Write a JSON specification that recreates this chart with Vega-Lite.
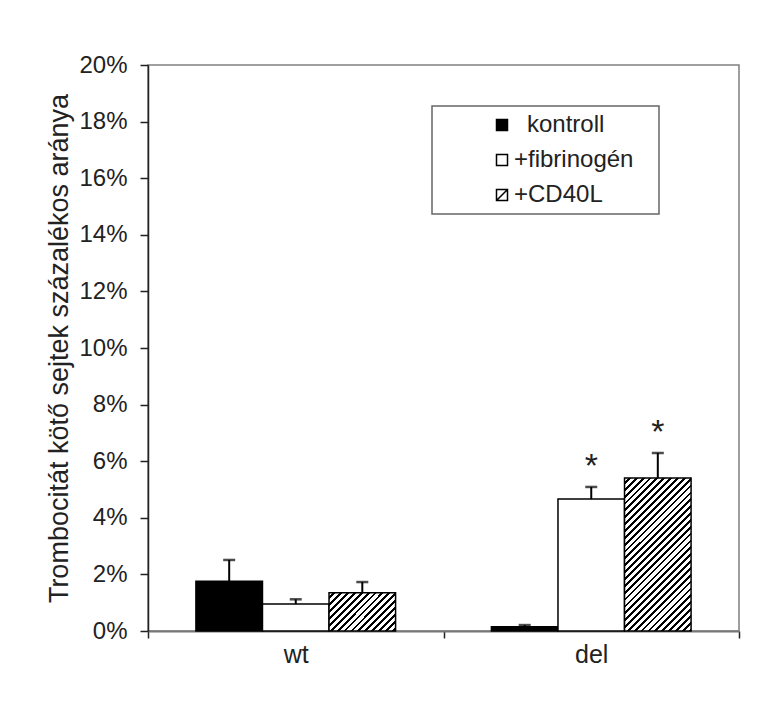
{
  "$schema": "https://vega.github.io/schema/vega-lite/v6.json",
  "autosize": {"type": "none"},
  "padding": {"left": 148, "top": 65, "right": 44, "bottom": 79},
  "width": 591,
  "height": 566,
  "background": "white",
  "config": {
    "font": "Liberation Sans",
    "view": {"stroke": "#808080", "strokeWidth": 1.5},
    "axis": {"labelColor": "#222", "titleColor": "#222", "labelFont": "Liberation Sans", "titleFont": "Liberation Sans"}
  },
  "data": {
    "values": [
      {"grp": "wt", "cond": "kontroll", "val": 0.0176, "err": 0.0251, "star": ""},
      {"grp": "wt", "cond": "+fibrinogén", "val": 0.0095, "err": 0.0112, "star": ""},
      {"grp": "wt", "cond": "+CD40L", "val": 0.0135, "err": 0.0173, "star": ""},
      {"grp": "del", "cond": "kontroll", "val": 0.0015, "err": 0.0021, "star": ""},
      {"grp": "del", "cond": "+fibrinogén", "val": 0.0466, "err": 0.0509, "star": "*"},
      {"grp": "del", "cond": "+CD40L", "val": 0.0541, "err": 0.0629, "star": "*"}
    ]
  },
  "encoding": {
    "x": {
      "field": "grp", "type": "nominal", "sort": ["wt", "del"],
      "scale": {"paddingInner": 0, "paddingOuter": 0},
      "axis": {"title": null, "labelAngle": 0, "labelFontSize": 25, "tickBand": "extent", "tickSize": 7, "tickColor": "#222", "tickWidth": 1.5, "labelPadding": 4, "domainColor": "#777", "domainWidth": 2}
    },
    "xOffset": {
      "field": "cond", "type": "nominal", "sort": ["kontroll", "+fibrinogén", "+CD40L"],
      "scale": {"paddingInner": 0, "paddingOuter": 0.72}
    }
  },
  "layer": [
    {
      "mark": {"type": "bar", "stroke": "black", "strokeWidth": 1.5},
      "encoding": {
        "y": {
          "field": "val", "type": "quantitative",
          "scale": {"domain": [0, 0.2], "nice": false},
          "axis": {
            "title": "Trombocitát kötő sejtek százalékos aránya",
            "titleFontSize": 27, "titleFontWeight": "normal", "titlePadding": 5,
            "labelFontSize": 24, "labelPadding": 13, "tickSize": 8, "tickColor": "#222", "tickWidth": 1.5,
            "domainColor": "#222", "domainWidth": 1.5, "grid": false,
            "values": [0, 0.02, 0.04, 0.06, 0.08, 0.1, 0.12, 0.14, 0.16, 0.18, 0.2],
            "format": ".0%"
          }
        },
        "fill": {
          "condition": [
            {
              "test": "datum.grp === 'wt' && datum.cond === '+CD40L'",
              "value": {"gradient": "linear", "x1": 0, "y1": 0, "x2": 2.49, "y2": 1.42, "stops": [
                {"offset": 0.01875, "color": "#fff"}, {"offset": 0.01875, "color": "#000"}, {"offset": 0.03125, "color": "#000"}, {"offset": 0.03125, "color": "#fff"},
                {"offset": 0.05, "color": "#fff"}, {"offset": 0.05, "color": "#000"}, {"offset": 0.0625, "color": "#000"}, {"offset": 0.0625, "color": "#fff"},
                {"offset": 0.08125, "color": "#fff"}, {"offset": 0.08125, "color": "#000"}, {"offset": 0.09375, "color": "#000"}, {"offset": 0.09375, "color": "#fff"},
                {"offset": 0.1125, "color": "#fff"}, {"offset": 0.1125, "color": "#000"}, {"offset": 0.125, "color": "#000"}, {"offset": 0.125, "color": "#fff"},
                {"offset": 0.14375, "color": "#fff"}, {"offset": 0.14375, "color": "#000"}, {"offset": 0.15625, "color": "#000"}, {"offset": 0.15625, "color": "#fff"},
                {"offset": 0.175, "color": "#fff"}, {"offset": 0.175, "color": "#000"}, {"offset": 0.1875, "color": "#000"}, {"offset": 0.1875, "color": "#fff"},
                {"offset": 0.20625, "color": "#fff"}, {"offset": 0.20625, "color": "#000"}, {"offset": 0.21875, "color": "#000"}, {"offset": 0.21875, "color": "#fff"},
                {"offset": 0.2375, "color": "#fff"}, {"offset": 0.2375, "color": "#000"}, {"offset": 0.25, "color": "#000"}, {"offset": 0.25, "color": "#fff"},
                {"offset": 0.26875, "color": "#fff"}, {"offset": 0.26875, "color": "#000"}, {"offset": 0.28125, "color": "#000"}, {"offset": 0.28125, "color": "#fff"},
                {"offset": 0.3, "color": "#fff"}, {"offset": 0.3, "color": "#000"}, {"offset": 0.3125, "color": "#000"}, {"offset": 0.3125, "color": "#fff"},
                {"offset": 0.33125, "color": "#fff"}, {"offset": 0.33125, "color": "#000"}, {"offset": 0.34375, "color": "#000"}, {"offset": 0.34375, "color": "#fff"},
                {"offset": 0.3625, "color": "#fff"}, {"offset": 0.3625, "color": "#000"}, {"offset": 0.375, "color": "#000"}, {"offset": 0.375, "color": "#fff"},
                {"offset": 0.39375, "color": "#fff"}, {"offset": 0.39375, "color": "#000"}, {"offset": 0.40625, "color": "#000"}, {"offset": 0.40625, "color": "#fff"},
                {"offset": 0.425, "color": "#fff"}, {"offset": 0.425, "color": "#000"}, {"offset": 0.4375, "color": "#000"}, {"offset": 0.4375, "color": "#fff"},
                {"offset": 0.45625, "color": "#fff"}, {"offset": 0.45625, "color": "#000"}, {"offset": 0.46875, "color": "#000"}, {"offset": 0.46875, "color": "#fff"},
                {"offset": 0.4875, "color": "#fff"}, {"offset": 0.4875, "color": "#000"}, {"offset": 0.5, "color": "#000"}, {"offset": 0.5, "color": "#fff"},
                {"offset": 0.51875, "color": "#fff"}, {"offset": 0.51875, "color": "#000"}, {"offset": 0.53125, "color": "#000"}, {"offset": 0.53125, "color": "#fff"},
                {"offset": 0.55, "color": "#fff"}, {"offset": 0.55, "color": "#000"}, {"offset": 0.5625, "color": "#000"}, {"offset": 0.5625, "color": "#fff"},
                {"offset": 0.58125, "color": "#fff"}, {"offset": 0.58125, "color": "#000"}, {"offset": 0.59375, "color": "#000"}, {"offset": 0.59375, "color": "#fff"},
                {"offset": 0.6125, "color": "#fff"}, {"offset": 0.6125, "color": "#000"}, {"offset": 0.625, "color": "#000"}, {"offset": 0.625, "color": "#fff"},
                {"offset": 0.64375, "color": "#fff"}, {"offset": 0.64375, "color": "#000"}, {"offset": 0.65625, "color": "#000"}, {"offset": 0.65625, "color": "#fff"},
                {"offset": 0.675, "color": "#fff"}, {"offset": 0.675, "color": "#000"}, {"offset": 0.6875, "color": "#000"}, {"offset": 0.6875, "color": "#fff"},
                {"offset": 0.70625, "color": "#fff"}, {"offset": 0.70625, "color": "#000"}, {"offset": 0.71875, "color": "#000"}, {"offset": 0.71875, "color": "#fff"},
                {"offset": 0.7375, "color": "#fff"}, {"offset": 0.7375, "color": "#000"}, {"offset": 0.75, "color": "#000"}, {"offset": 0.75, "color": "#fff"},
                {"offset": 0.76875, "color": "#fff"}, {"offset": 0.76875, "color": "#000"}, {"offset": 0.78125, "color": "#000"}, {"offset": 0.78125, "color": "#fff"},
                {"offset": 0.8, "color": "#fff"}, {"offset": 0.8, "color": "#000"}, {"offset": 0.8125, "color": "#000"}, {"offset": 0.8125, "color": "#fff"},
                {"offset": 0.83125, "color": "#fff"}, {"offset": 0.83125, "color": "#000"}, {"offset": 0.84375, "color": "#000"}, {"offset": 0.84375, "color": "#fff"},
                {"offset": 0.8625, "color": "#fff"}, {"offset": 0.8625, "color": "#000"}, {"offset": 0.875, "color": "#000"}, {"offset": 0.875, "color": "#fff"},
                {"offset": 0.89375, "color": "#fff"}, {"offset": 0.89375, "color": "#000"}, {"offset": 0.90625, "color": "#000"}, {"offset": 0.90625, "color": "#fff"},
                {"offset": 0.925, "color": "#fff"}, {"offset": 0.925, "color": "#000"}, {"offset": 0.9375, "color": "#000"}, {"offset": 0.9375, "color": "#fff"},
                {"offset": 0.95625, "color": "#fff"}, {"offset": 0.95625, "color": "#000"}, {"offset": 0.96875, "color": "#000"}, {"offset": 0.96875, "color": "#fff"},
                {"offset": 0.9875, "color": "#fff"}, {"offset": 0.9875, "color": "#000"}, {"offset": 1, "color": "#000"}
              ]}
            },
            {
              "test": "datum.grp === 'del' && datum.cond === '+CD40L'",
              "value": {"gradient": "linear", "x1": 0, "y1": 0, "x2": 0.524, "y2": 1.206, "stops": [
                {"offset": 0.01875, "color": "#fff"}, {"offset": 0.01875, "color": "#000"}, {"offset": 0.03125, "color": "#000"}, {"offset": 0.03125, "color": "#fff"},
                {"offset": 0.05, "color": "#fff"}, {"offset": 0.05, "color": "#000"}, {"offset": 0.0625, "color": "#000"}, {"offset": 0.0625, "color": "#fff"},
                {"offset": 0.08125, "color": "#fff"}, {"offset": 0.08125, "color": "#000"}, {"offset": 0.09375, "color": "#000"}, {"offset": 0.09375, "color": "#fff"},
                {"offset": 0.1125, "color": "#fff"}, {"offset": 0.1125, "color": "#000"}, {"offset": 0.125, "color": "#000"}, {"offset": 0.125, "color": "#fff"},
                {"offset": 0.14375, "color": "#fff"}, {"offset": 0.14375, "color": "#000"}, {"offset": 0.15625, "color": "#000"}, {"offset": 0.15625, "color": "#fff"},
                {"offset": 0.175, "color": "#fff"}, {"offset": 0.175, "color": "#000"}, {"offset": 0.1875, "color": "#000"}, {"offset": 0.1875, "color": "#fff"},
                {"offset": 0.20625, "color": "#fff"}, {"offset": 0.20625, "color": "#000"}, {"offset": 0.21875, "color": "#000"}, {"offset": 0.21875, "color": "#fff"},
                {"offset": 0.2375, "color": "#fff"}, {"offset": 0.2375, "color": "#000"}, {"offset": 0.25, "color": "#000"}, {"offset": 0.25, "color": "#fff"},
                {"offset": 0.26875, "color": "#fff"}, {"offset": 0.26875, "color": "#000"}, {"offset": 0.28125, "color": "#000"}, {"offset": 0.28125, "color": "#fff"},
                {"offset": 0.3, "color": "#fff"}, {"offset": 0.3, "color": "#000"}, {"offset": 0.3125, "color": "#000"}, {"offset": 0.3125, "color": "#fff"},
                {"offset": 0.33125, "color": "#fff"}, {"offset": 0.33125, "color": "#000"}, {"offset": 0.34375, "color": "#000"}, {"offset": 0.34375, "color": "#fff"},
                {"offset": 0.3625, "color": "#fff"}, {"offset": 0.3625, "color": "#000"}, {"offset": 0.375, "color": "#000"}, {"offset": 0.375, "color": "#fff"},
                {"offset": 0.39375, "color": "#fff"}, {"offset": 0.39375, "color": "#000"}, {"offset": 0.40625, "color": "#000"}, {"offset": 0.40625, "color": "#fff"},
                {"offset": 0.425, "color": "#fff"}, {"offset": 0.425, "color": "#000"}, {"offset": 0.4375, "color": "#000"}, {"offset": 0.4375, "color": "#fff"},
                {"offset": 0.45625, "color": "#fff"}, {"offset": 0.45625, "color": "#000"}, {"offset": 0.46875, "color": "#000"}, {"offset": 0.46875, "color": "#fff"},
                {"offset": 0.4875, "color": "#fff"}, {"offset": 0.4875, "color": "#000"}, {"offset": 0.5, "color": "#000"}, {"offset": 0.5, "color": "#fff"},
                {"offset": 0.51875, "color": "#fff"}, {"offset": 0.51875, "color": "#000"}, {"offset": 0.53125, "color": "#000"}, {"offset": 0.53125, "color": "#fff"},
                {"offset": 0.55, "color": "#fff"}, {"offset": 0.55, "color": "#000"}, {"offset": 0.5625, "color": "#000"}, {"offset": 0.5625, "color": "#fff"},
                {"offset": 0.58125, "color": "#fff"}, {"offset": 0.58125, "color": "#000"}, {"offset": 0.59375, "color": "#000"}, {"offset": 0.59375, "color": "#fff"},
                {"offset": 0.6125, "color": "#fff"}, {"offset": 0.6125, "color": "#000"}, {"offset": 0.625, "color": "#000"}, {"offset": 0.625, "color": "#fff"},
                {"offset": 0.64375, "color": "#fff"}, {"offset": 0.64375, "color": "#000"}, {"offset": 0.65625, "color": "#000"}, {"offset": 0.65625, "color": "#fff"},
                {"offset": 0.675, "color": "#fff"}, {"offset": 0.675, "color": "#000"}, {"offset": 0.6875, "color": "#000"}, {"offset": 0.6875, "color": "#fff"},
                {"offset": 0.70625, "color": "#fff"}, {"offset": 0.70625, "color": "#000"}, {"offset": 0.71875, "color": "#000"}, {"offset": 0.71875, "color": "#fff"},
                {"offset": 0.7375, "color": "#fff"}, {"offset": 0.7375, "color": "#000"}, {"offset": 0.75, "color": "#000"}, {"offset": 0.75, "color": "#fff"},
                {"offset": 0.76875, "color": "#fff"}, {"offset": 0.76875, "color": "#000"}, {"offset": 0.78125, "color": "#000"}, {"offset": 0.78125, "color": "#fff"},
                {"offset": 0.8, "color": "#fff"}, {"offset": 0.8, "color": "#000"}, {"offset": 0.8125, "color": "#000"}, {"offset": 0.8125, "color": "#fff"},
                {"offset": 0.83125, "color": "#fff"}, {"offset": 0.83125, "color": "#000"}, {"offset": 0.84375, "color": "#000"}, {"offset": 0.84375, "color": "#fff"},
                {"offset": 0.8625, "color": "#fff"}, {"offset": 0.8625, "color": "#000"}, {"offset": 0.875, "color": "#000"}, {"offset": 0.875, "color": "#fff"},
                {"offset": 0.89375, "color": "#fff"}, {"offset": 0.89375, "color": "#000"}, {"offset": 0.90625, "color": "#000"}, {"offset": 0.90625, "color": "#fff"},
                {"offset": 0.925, "color": "#fff"}, {"offset": 0.925, "color": "#000"}, {"offset": 0.9375, "color": "#000"}, {"offset": 0.9375, "color": "#fff"},
                {"offset": 0.95625, "color": "#fff"}, {"offset": 0.95625, "color": "#000"}, {"offset": 0.96875, "color": "#000"}, {"offset": 0.96875, "color": "#fff"},
                {"offset": 0.9875, "color": "#fff"}, {"offset": 0.9875, "color": "#000"}, {"offset": 1, "color": "#000"}
              ]}
            }
          ],
          "field": "cond", "type": "nominal",
          "scale": {"domain": ["kontroll", "+fibrinogén", "+CD40L"], "range": ["#000000", "#ffffff", "#ffffff"]},
          "legend": {
            "title": null,
            "orient": "none", "legendX": 284, "legendY": 41,
            "direction": "vertical",
            "strokeColor": "#666", "fillColor": "white",
            "padding": 7,
            "labelFont": "Liberation Sans", "labelFontSize": 24, "labelColor": "#222",
            "symbolSize": 121, "symbolStrokeColor": "black", "symbolStrokeWidth": 1.5,
            "symbolOffset": 51, "labelOffset": 0, "rowPadding": 11,
            "encode": {
              "legend": {"update": {"strokeWidth": {"value": 1.5}}},
              "symbols": {
                "update": {
                  "shape": {"signal": "datum.value === '+CD40L' ? 'M-1,-1H1V1H-1ZM-1,1L1,-1' : 'square'"}
                }
              },
              "labels": {
                "update": {
                  "text": {"signal": "datum.label + '\u2800'"},
                  "dx": {"signal": "datum.label === 'kontroll' ? 13 : 0"}
                }
              }
            }
          }
        }
      }
    },
    {
      "mark": {"type": "rule", "color": "black", "strokeWidth": 2},
      "encoding": {
        "y": {"field": "val", "type": "quantitative"},
        "y2": {"field": "err"}
      }
    },
    {
      "mark": {"type": "tick", "color": "black", "size": 12, "thickness": 2.5},
      "encoding": {
        "y": {"field": "err", "type": "quantitative"}
      }
    },
    {
      "mark": {"type": "text", "font": "Liberation Sans", "fontSize": 34, "baseline": "alphabetic", "dy": -10, "color": "#222"},
      "encoding": {
        "y": {"field": "err", "type": "quantitative"},
        "text": {"field": "star"}
      }
    }
  ]
}
